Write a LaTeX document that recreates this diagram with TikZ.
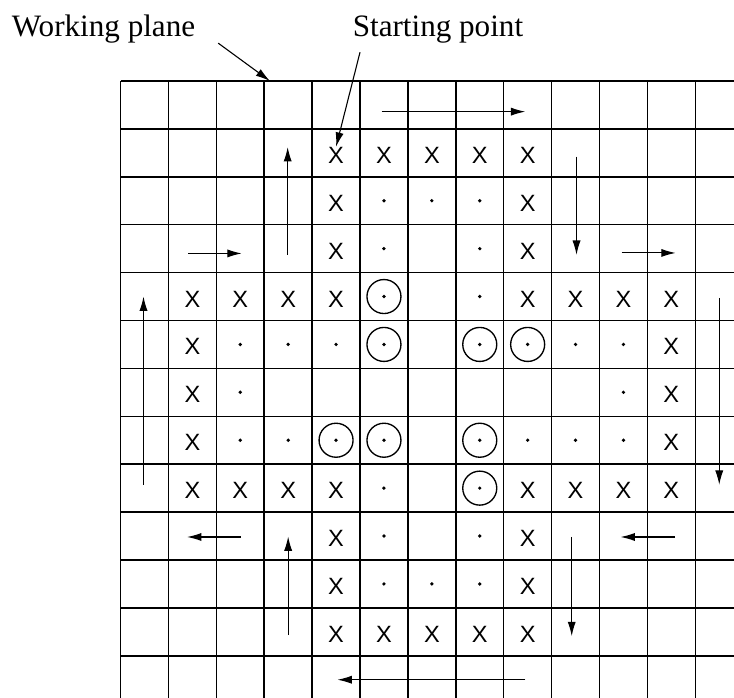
\documentclass[tikz,border=0pt]{standalone}
\usepackage{fontspec}
\setmainfont{Liberation Serif}
\newfontfamily\markfont{Liberation Sans}
\usetikzlibrary{arrows.meta}

\begin{document}
\begin{tikzpicture}[x=1cm,y=-1cm,
  gridline/.style={line width=0.9pt},
  flow/.style={-{Latex[length=3mm,width=1.7mm]},line width=0.65pt},
  xmark/.style={font=\markfont\fontsize{14}{14}\selectfont,inner sep=0pt},
  dotmark/.style={circle,fill,inner sep=0pt,minimum size=2.2pt},
  ringmark/.style={circle,draw,line width=0.8pt,inner sep=0pt,minimum size=0.71cm},
  caption/.style={font=\fontsize{18.5}{20}\selectfont,anchor=base}]
  \useasboundingbox (-2.516,-1.691) rectangle (12.808,12.881);
  % working plane, cut off at the right and bottom edges
  \foreach \i in {0,...,12}{
    \draw[gridline] (\i,0) -- (\i,12.881);
    \draw[gridline] (0,\i) -- (12.808,\i);
  }
  % boundary cells
  \foreach \c/\r in {4/1,5/1,6/1,7/1,8/1, 4/2,8/2, 4/3,8/3,
                     1/4,2/4,3/4,4/4,8/4,9/4,10/4,11/4,
                     1/5,11/5, 1/6,11/6, 1/7,11/7,
                     1/8,2/8,3/8,4/8,8/8,9/8,10/8,11/8,
                     4/9,8/9, 4/10,8/10, 4/11,5/11,6/11,7/11,8/11}
    \node[xmark] (x-\c-\r) at (\c+.5,\r+.55) {X};
  % inner cells
  \foreach \c/\r in {5/2,6/2,7/2, 5/3,7/3, 5/4,7/4,
                     2/5,3/5,4/5,5/5,7/5,8/5,9/5,10/5, 2/6,10/6,
                     2/7,3/7,4/7,5/7,7/7,8/7,9/7,10/7,
                     5/8,7/8, 5/9,7/9, 5/10,6/10,7/10}
    \node[dotmark] (d-\c-\r) at (\c+.5,\r+.5) {};
  \foreach \c/\r in {5/4,5/5,7/5,8/5,4/7,5/7,7/7,7/8}
    \node[ringmark] (o-\c-\r) at (\c+.5,\r+.5) {};
  % scan directions
  \draw[flow] (5.45,0.64) -- (8.45,0.64);
  \draw[flow] (3.49,3.63) -- (3.49,1.38);
  \draw[flow] (1.41,3.6) -- (2.53,3.6);
  \draw[flow] (9.52,1.58) -- (9.52,3.63);
  \draw[flow] (10.46,3.59) -- (11.59,3.59);
  \draw[flow] (0.48,8.43) -- (0.48,4.5);
  \draw[flow] (12.5,4.53) -- (12.5,8.43);
  \draw[flow] (2.51,9.52) -- (1.39,9.52);
  \draw[flow] (3.5,11.57) -- (3.5,9.51);
  \draw[flow] (9.42,9.52) -- (9.42,11.59);
  \draw[flow] (11.58,9.52) -- (10.44,9.52);
  \draw[flow] (8.45,12.5) -- (4.53,12.5);
  % captions
  \node[caption] (planelabel) at (-0.355,-0.919) {Working plane};
  \node[caption] (startlabel) at (6.628,-0.919) {Starting point};
  \coordinate (planefoot) at (2.04,-0.79);
  \coordinate (planetip) at (3.12,0);
  \coordinate (startfoot) at (5.0,-0.6);
  \draw[flow] (planefoot) -- (planetip);
  \draw[flow] (startfoot) -- (x-4-1.north);
\end{tikzpicture}
\end{document}
